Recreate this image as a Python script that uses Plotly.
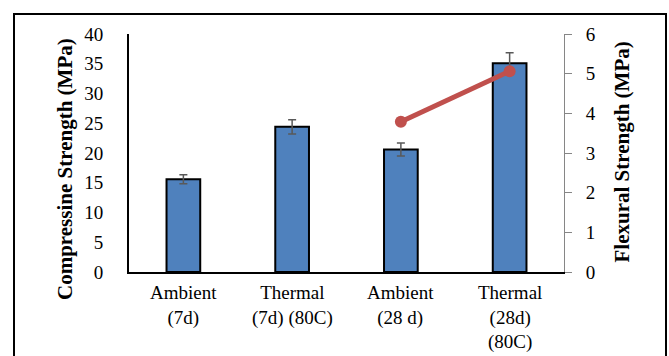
import plotly.graph_objects as go

categories = ["Ambient (7d)", "Thermal (7d) (80C)", "Ambient (28 d)", "Thermal (28d) (80C)"]
tick_labels = ["Ambient<br>(7d)", "Thermal<br>(7d) (80C)", "Ambient<br>(28 d)", "Thermal<br>(28d)<br>(80C)"]
compressive = [15.6, 24.4, 20.6, 35.1]
compressive_err = [0.75, 1.2, 1.1, 1.75]
flexural = [None, None, 3.79, 5.06]

FONT = "Liberation Serif, Times New Roman, serif"

fig = go.Figure()
fig.add_trace(go.Bar(
    x=categories, y=compressive,
    marker=dict(color="#4F81BD", line=dict(color="black", width=2)),
    width=0.31,
    error_y=dict(type="data", array=compressive_err, visible=True,
                 color="#595959", thickness=1.5, width=4),
    showlegend=False,
))
fig.add_trace(go.Scatter(
    x=categories, y=flexural, yaxis="y2", mode="lines+markers",
    line=dict(color="#C0504D", width=5),
    marker=dict(color="#C0504D", size=12),
    showlegend=False, connectgaps=False,
))

L, R, T, B = 129, 105, 34, 84
W, H = 669, 356
pw, ph = W - L - R, H - T - B

annotations = []
for cat, txt in zip(categories, tick_labels):
    annotations.append(dict(
        x=cat, xref="x", y=0, yref="paper", yanchor="top",
        yshift=-8, text=txt, showarrow=False,
        font=dict(size=19, family=FONT, color="black"),
    ))
# axis titles
annotations.append(dict(
    x=(65 - L) / pw, xref="paper", y=(H - B - 169) / ph, yref="paper",
    xanchor="center", yanchor="middle", textangle=-90, showarrow=False,
    text="<b>Compressine Strength (MPa)</b>",
    font=dict(size=21, family=FONT, color="black"),
))
annotations.append(dict(
    x=(621 - L) / pw, xref="paper", y=(H - B - 152.5) / ph, yref="paper",
    xanchor="center", yanchor="middle", textangle=-90, showarrow=False,
    text="<b>Flexural Strength (MPa)</b>",
    font=dict(size=21, family=FONT, color="black"),
))

fig.update_layout(
    width=W, height=H,
    margin=dict(l=L, r=R, t=T, b=B),
    paper_bgcolor="white", plot_bgcolor="white",
    font=dict(family=FONT, size=19, color="black"),
    xaxis=dict(
        showline=True, linecolor="black", linewidth=2,
        ticks="", showgrid=False, showticklabels=False, automargin=False,
    ),
    yaxis=dict(
        range=[0, 40], dtick=5, showline=True, linecolor="black", linewidth=2,
        ticks="", showgrid=False, zeroline=False, tickfont=dict(size=19),
        ticklabelstandoff=20, automargin=False,
    ),
    yaxis2=dict(
        range=[0, 6], dtick=1, overlaying="y", side="right",
        showline=True, linecolor="#868686", linewidth=1,
        ticks="outside", ticklen=7, tickcolor="#868686",
        showgrid=False, zeroline=False, tickfont=dict(size=19),
        ticklabelstandoff=10, automargin=False,
    ),
    annotations=annotations,
    shapes=[dict(
        type="rect", xref="paper", yref="paper",
        x0=(14 - L) / pw, x1=(666 - L) / pw,
        y0=-0.6, y1=(H - B - 14) / ph,
        line=dict(color="black", width=2), fillcolor="rgba(0,0,0,0)",
        layer="below",
    )],
)

fig.write_html(
    "out.html",
    config={"displayModeBar": False},
    post_script="document.body.style.margin='0';document.body.style.overflow='hidden';",
)
